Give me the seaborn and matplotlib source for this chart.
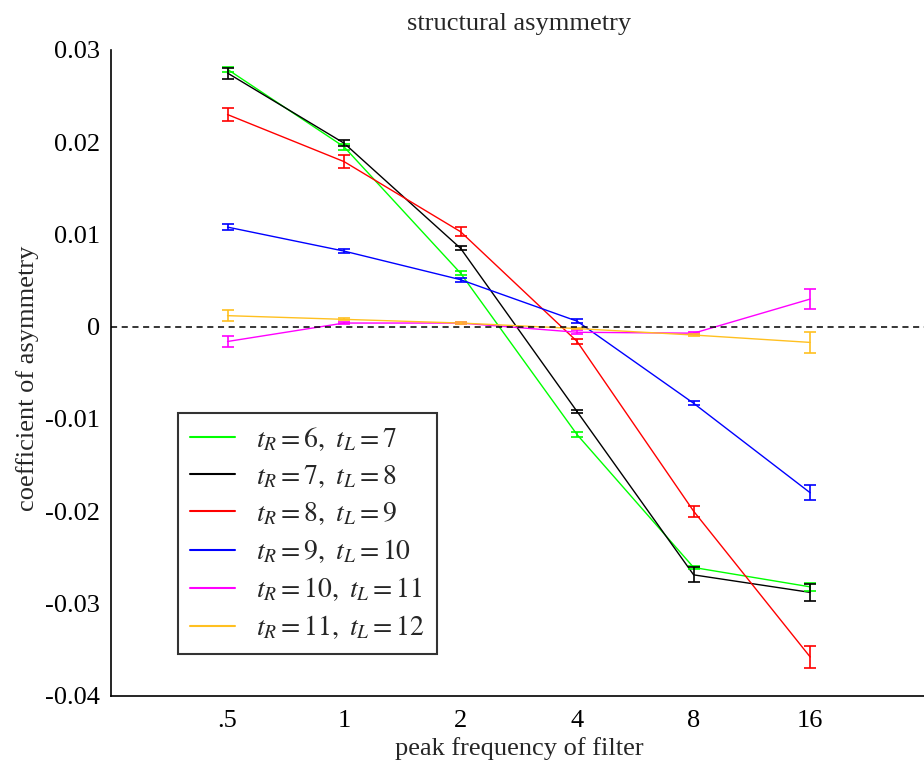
import numpy as np
import pandas as pd
import matplotlib
matplotlib.use("Agg")
import matplotlib.pyplot as plt
import seaborn as sns

freq_labels = [".5", "1", "2", "4", "8", "16"]
series_labels = [r"$t_R = 6,\ t_L = 7$", r"$t_R = 7,\ t_L = 8$", r"$t_R = 8,\ t_L = 9$",
                 r"$t_R = 9,\ t_L = 10$", r"$t_R = 10,\ t_L = 11$", r"$t_R = 11,\ t_L = 12$"]
colors = ["#00ff00", "#000000", "#ff0000", "#0000ff", "#ff00ff", "#ffc020"]

green = [0.0279, 0.0195, 0.0058, -0.0117, -0.0261, -0.0282]
black = [0.0275, 0.0199, 0.0085, -0.0092, -0.0269, -0.0288]
red = [0.0230, 0.0179, 0.0103, -0.0016, -0.0200, -0.0358]
blue = [0.0108, 0.0082, 0.0051, 0.0006, -0.0083, -0.0180]
magenta = [-0.0016, 0.0004, 0.0004, -0.0006, -0.0007, 0.0030]
yellow = [0.0012, 0.0008, 0.0004, -0.0002, -0.0009, -0.0017]

err_green = [0.0003, 0.0003, 0.0002, 0.0003, 0.0002, 0.0004]
err_black = [0.0006, 0.0003, 0.0002, 0.0002, 0.0008, 0.0009]
err_red = [0.0007, 0.0007, 0.0005, 0.0003, 0.0006, 0.0012]
err_blue = [0.0003, 0.0002, 0.0002, 0.0002, 0.0002, 0.0008]
err_magenta = [0.0006, 0.0001, 0.0001, 0.0002, 0.0001, 0.0011]
err_yellow = [0.0006, 0.0001, 0.0001, 0.0001, 0.0001, 0.0011]

yticks = [0.03, 0.02, 0.01, 0.0, -0.01, -0.02, -0.03, -0.04]
ytick_labels = ["0.03", "0.02", "0.01", "0", "-0.01", "-0.02", "-0.03", "-0.04"]

values = [green, black, red, blue, magenta, yellow]
errors = [err_green, err_black, err_red, err_blue, err_magenta, err_yellow]

rows = []
for lab, vals, errs in zip(series_labels, values, errors):
    for i, (v, e) in enumerate(zip(vals, errs)):
        rows.append({"series": lab, "pos": i, "value": v, "err": e})
df = pd.DataFrame(rows)

sns.set_theme(style="white")
plt.rcParams["font.family"] = ["Liberation Serif", "DejaVu Serif"]
plt.rcParams["mathtext.fontset"] = "stix"

fig = plt.figure(figsize=(9.24, 7.67), dpi=100)
ax = fig.add_axes([111 / 924, 1 - 695.7 / 767, 815.7 / 924, 645.7 / 767])

sns.lineplot(data=df, x="pos", y="value", hue="series", hue_order=series_labels,
             palette=colors, linewidth=1.0, ax=ax, legend=True, zorder=3)
for lab, col in zip(series_labels, colors):
    sub = df[df["series"] == lab]
    ax.errorbar(sub["pos"], sub["value"], yerr=sub["err"], fmt="none",
                ecolor=col, elinewidth=1.2, capsize=4.5, capthick=1.2, zorder=3)

ax.axhline(0, color="black", linestyle=(0, (4, 3)), linewidth=1.1, zorder=5)

ax.set_xlim(-1, 6)
ax.set_ylim(-0.04, 0.03)
ax.set_xticks(range(len(freq_labels)))
ax.set_xticklabels(freq_labels)
ax.set_yticks(yticks)
ax.set_yticklabels(ytick_labels)
ax.tick_params(direction="in", length=7, width=1.0, labelsize=19, pad=8, colors="black")
ax.tick_params(axis="x", pad=10)

for side in ["top", "right"]:
    ax.spines[side].set_visible(False)
for side in ["left", "bottom"]:
    ax.spines[side].set_color("black")
    ax.spines[side].set_linewidth(1.2)

ax.set_title("structural asymmetry", fontsize=19, pad=14.5)
ax.set_xlabel("peak frequency of filter", fontsize=19, labelpad=4)
ax.set_ylabel("coefficient of asymmetry", fontsize=19)
ax.yaxis.set_label_coords(-0.088, 0.492)

leg = ax.legend(loc="lower left", bbox_to_anchor=(0.082, 0.0646), borderaxespad=0,
                fontsize=20, frameon=True, fancybox=False, handlelength=1.6,
                handletextpad=0.75, labelspacing=0.37, borderpad=0.45, title=None)
leg.get_frame().set_edgecolor("black")
leg.get_frame().set_linewidth(1.5)
for line in leg.get_lines():
    line.set_linewidth(1.5)

fig.savefig("out.png", dpi=100)
